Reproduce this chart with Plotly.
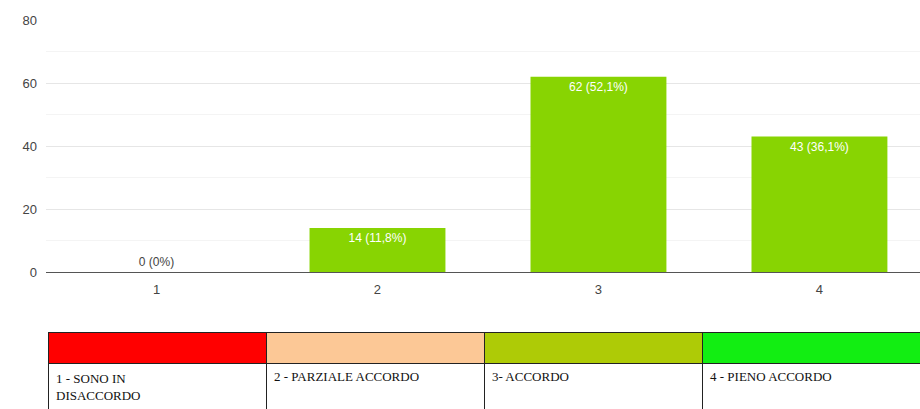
import plotly.graph_objects as go

categories = [1, 2, 3, 4]
counts = [0, 14, 62, 43]
percent_labels = ["0%", "11,8%", "52,1%", "36,1%"]
yticks = [0, 20, 40, 60, 80]

legend_labels = ["1 - SONO IN<br>DISACCORDO", "2 - PARZIALE ACCORDO", "3- ACCORDO", "4 - PIENO ACCORDO"]
legend_colors = ["#FF0000", "#FCC896", "#AECB06", "#12EE12"]

W, H = 920, 409
bar_texts = [f"{c} ({p})" for c, p in zip(counts, percent_labels)]
text_pos = ["outside" if c == 0 else "inside" for c in counts]
text_col = ["#444444" if c == 0 else "white" for c in counts]

fig = go.Figure()
fig.add_trace(go.Bar(
    x=categories, y=counts, text=bar_texts, textposition=text_pos,
    insidetextanchor="end", textangle=0,
    textfont=dict(color=text_col, size=12, family="Arial, Liberation Sans, sans-serif"),
    marker=dict(color="#88D402", line=dict(width=0)),
    width=0.615, cliponaxis=False, showlegend=False,
))

fig.add_trace(go.Table(
    domain=dict(x=[48 / W, 1.0], y=[0, 1 - 332 / H]),
    columnwidth=[1, 1, 1, 1],
    header=dict(values=["", "", "", ""], fill_color=legend_colors, height=31,
                line=dict(color="#222222", width=1)),
    cells=dict(values=[[l] for l in legend_labels], fill_color="white", height=46,
               align="left", line=dict(color="#222222", width=1),
               font=dict(family="Liberation Serif, Times New Roman, serif", size=13, color="#111111")),
))

fig.update_layout(
    width=W, height=H, margin=dict(l=0, r=0, t=0, b=0, autoexpand=False),
    paper_bgcolor="white", plot_bgcolor="white",
    bargap=0.385,
    xaxis=dict(domain=[46 / W, 1.0], range=[0.5, 4.455], tickvals=categories,
               showgrid=False, showline=True, linecolor="#555555", linewidth=1,
               ticks="", automargin=False, ticklabelstandoff=5,
               tickfont=dict(size=13, color="#444444", family="Arial, Liberation Sans, sans-serif"),
               zeroline=False, fixedrange=True),
    yaxis=dict(domain=[1 - 272 / H, 1 - 20 / H], range=[0, 80], tickvals=yticks,
               showgrid=True, gridcolor="#E6E6E6", zeroline=False, ticks="",
               ticklabelstandoff=8, automargin=False,
               minor=dict(dtick=10, showgrid=True, gridcolor="#F4F4F4"),
               tickfont=dict(size=13, color="#444444", family="Arial, Liberation Sans, sans-serif")),
    font=dict(family="Arial, Liberation Sans, sans-serif"),
)

fig.write_html("out.html", config={"displayModeBar": False},
               post_script="document.body.style.margin='0';document.body.style.overflow='hidden';")
